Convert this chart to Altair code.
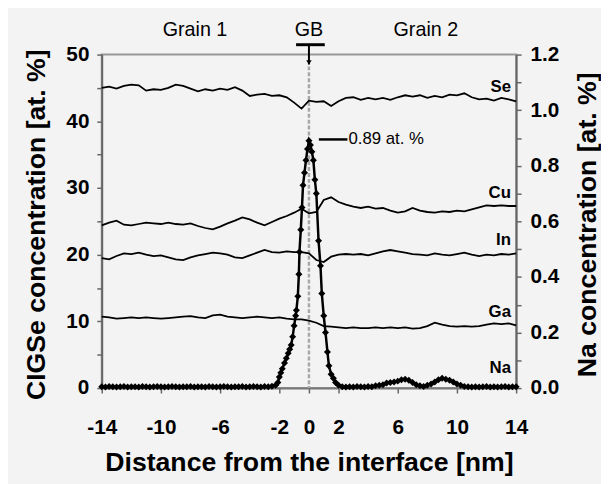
import altair as alt
import pandas as pd

# ---------------- data ----------------
x_nm = [-14.0, -13.5, -13.0, -12.5, -12.0, -11.5, -11.0, -10.5, -10.0, -9.5,
        -9.0, -8.5, -8.0, -7.5, -7.0, -6.5, -6.0, -5.5, -5.0, -4.5,
        -4.0, -3.5, -3.0, -2.5, -2.0, -1.5, -1.0, -0.5, 0.0, 0.5,
        1.0, 1.5, 2.0, 2.5, 3.0, 3.5, 4.0, 4.5, 5.0, 5.5,
        6.0, 6.5, 7.0, 7.5, 8.0, 8.5, 9.0, 9.5, 10.0, 10.5,
        11.0, 11.5, 12.0, 12.5, 13.0, 13.5, 14.0]

se = [45.0, 45.2, 44.9, 45.3, 45.5, 45.4, 44.6, 44.8, 44.7, 45.0,
      45.5, 45.3, 44.9, 44.5, 44.8, 44.6, 44.9, 44.7, 45.1, 44.6,
      43.8, 44.0, 44.1, 43.8, 43.9, 43.6, 42.8, 41.9, 43.1, 42.9,
      43.0, 42.3, 43.0, 43.5, 43.6, 43.2, 43.5, 43.3, 43.5, 43.2,
      43.6, 43.9, 43.7, 43.9, 43.5, 43.8, 43.6, 44.0, 43.9, 44.2,
      43.6, 43.3, 43.4, 43.1, 43.5, 43.3, 43.0]

cu = [24.4, 24.8, 25.1, 24.5, 24.4, 24.6, 24.8, 24.7, 24.6, 24.8,
      24.6, 24.5, 24.7, 24.3, 24.0, 23.8, 24.2, 24.7, 25.1, 25.6,
      25.3, 24.8, 24.4, 24.9, 25.4, 25.8, 26.3, 26.9, 26.2, 26.4,
      28.2, 28.6, 27.9, 27.5, 27.2, 27.0, 27.2, 26.9, 27.0, 26.6,
      26.3, 26.5, 27.0, 26.6, 26.4, 26.3, 26.5, 26.4, 26.6, 26.5,
      26.8, 27.1, 27.4, 27.3, 27.4, 27.3, 27.3]

in_ = [19.5, 19.3, 19.8, 20.2, 20.1, 20.3, 20.0, 19.8, 19.9, 19.6,
       19.3, 19.2, 19.6, 19.9, 20.1, 20.3, 20.2, 20.0, 19.6, 19.5,
       19.9, 20.3, 20.7, 20.4, 20.3, 20.5, 20.4, 20.4, 20.2, 19.2,
       18.9, 19.7, 20.0, 20.1, 20.0, 20.1, 19.9, 20.2, 20.5, 20.7,
       20.5, 20.3, 20.1, 20.0, 19.9, 20.2, 20.0, 19.9, 20.1, 20.3,
       20.0, 19.8, 20.0, 19.9, 20.1, 20.0, 20.2]

ga = [10.7, 10.6, 10.4, 10.5, 10.6, 10.5, 10.6, 10.5, 10.4, 10.5,
      10.6, 10.7, 10.8, 10.6, 10.5, 10.9, 11.0, 10.7, 10.6, 10.5,
      10.6, 10.7, 10.6, 10.5, 10.6, 10.4, 10.3, 10.3, 10.1, 9.8,
      9.3, 9.2, 9.1, 9.0, 9.1, 9.0, 9.0, 9.1, 9.0, 9.1,
      9.0, 9.1, 8.9, 9.0, 9.3, 9.8, 9.5, 9.3, 9.2, 9.3,
      9.2, 9.3, 9.5, 9.7, 9.6, 9.7, 9.4]

na_x = [-14.0, -13.75, -13.5, -13.25, -13.0, -12.75, -12.5, -12.25, -12.0, -11.75,
        -11.5, -11.25, -11.0, -10.75, -10.5, -10.25, -10.0, -9.75, -9.5, -9.25,
        -9.0, -8.75, -8.5, -8.25, -8.0, -7.75, -7.5, -7.25, -7.0, -6.75,
        -6.5, -6.25, -6.0, -5.75, -5.5, -5.25, -5.0, -4.75, -4.5, -4.25,
        -4.0, -3.75, -3.5, -3.25, -3.0, -2.75, -2.5, -2.25,
        -2.1, -2.0, -1.9, -1.8, -1.65, -1.53, -1.4, -1.3, -1.2, -1.1,
        -1.0, -0.9, -0.85, -0.75, -0.68, -0.64, -0.55, -0.47, -0.4, -0.3,
        -0.2, -0.1, 0.0, 0.1, 0.2, 0.3, 0.4, 0.5, 0.65, 0.78,
        0.87, 1.0, 1.12, 1.25, 1.35, 1.5, 1.65, 1.8, 2.0,
        2.25, 2.5, 2.75, 3.0, 3.25, 3.5, 3.75, 4.0, 4.25, 4.5,
        4.75, 5.0, 5.25, 5.5, 5.75, 6.0, 6.25, 6.5, 6.75, 7.0,
        7.25, 7.5, 7.75, 8.0, 8.25, 8.5, 8.75, 9.0, 9.25, 9.5,
        9.75, 10.0, 10.25, 10.5, 10.75, 11.0, 11.25, 11.5, 11.75, 12.0,
        12.25, 12.5, 12.75, 13.0, 13.25, 13.5, 13.75, 14.0]

na = [0.005, 0.004, 0.006, 0.005, 0.004, 0.005, 0.006, 0.004, 0.005, 0.005,
      0.004, 0.006, 0.005, 0.004, 0.005, 0.006, 0.005, 0.004, 0.005, 0.006,
      0.005, 0.004, 0.005, 0.005, 0.006, 0.004, 0.005, 0.005, 0.004, 0.006,
      0.005, 0.004, 0.005, 0.006, 0.005, 0.004, 0.005, 0.005, 0.006, 0.004,
      0.005, 0.006, 0.005, 0.004, 0.006, 0.005, 0.007, 0.01,
      0.02, 0.04, 0.055, 0.07, 0.09, 0.107, 0.125, 0.14, 0.155, 0.185,
      0.224, 0.26, 0.28, 0.33, 0.41, 0.49, 0.57, 0.65, 0.73, 0.775,
      0.82, 0.86, 0.89, 0.875, 0.85, 0.82, 0.75, 0.70, 0.53, 0.44,
      0.34, 0.26, 0.20, 0.13, 0.08, 0.05, 0.035, 0.02, 0.01,
      0.005, 0.004, 0.005, 0.004, 0.006, 0.005, 0.004, 0.006, 0.005, 0.008,
      0.01, 0.012, 0.018, 0.02, 0.022, 0.025, 0.03, 0.032, 0.028, 0.02,
      0.012, 0.008, 0.006, 0.01, 0.015, 0.022, 0.03, 0.035, 0.032, 0.028,
      0.022, 0.015, 0.01, 0.006, 0.005, 0.004, 0.005, 0.004, 0.005, 0.006,
      0.004, 0.005, 0.004, 0.005, 0.006, 0.004, 0.005, 0.005]

series_names = ["Se", "Cu", "In", "Ga"]
label_names = ["Se", "Cu", "In", "Ga", "Na"]
label_y = [45.1, 29.3, 22.2, 11.4, 3.0]

x_ticks = [-14, -10, -6, -2, 0, 2, 6, 10, 14]
left_ticks = [0, 5, 10, 15, 20, 25, 30, 35, 40, 45, 50]
right_ticks = [0.0, 0.1, 0.2, 0.3, 0.4, 0.5, 0.6, 0.7, 0.8, 0.9, 1.0, 1.1, 1.2]

region_names = ["Grain 1", "GB", "Grain 2"]
region_x = [-7.7, 0.0, 7.9]

# ---------------- tables ----------------
rows = []
for name, vals in zip(series_names, [se, cu, in_, ga]):
    for xv, yv in zip(x_nm, vals):
        rows.append({"x": xv, "v": yv, "s": name})
df_main = pd.DataFrame(rows)
df_na = pd.DataFrame({"x": na_x, "na": na})
df_lab = pd.DataFrame({"x": [13.65] * len(label_names), "v": label_y, "t": label_names})
df_reg = pd.DataFrame({"x": region_x, "t": region_names})

FONT = "Liberation Sans"

x_axis = alt.Axis(values=x_ticks, title="Distance from the interface [nm]",
                  labelExpr="'' + datum.value",
                  titleFontSize=27, titleFontWeight="bold", titleFont=FONT,
                  titleY=84, titleBaseline="alphabetic",
                  labelFontSize=21, labelFontWeight="bold", labelFont=FONT,
                  labelColor="black", titleColor="black",
                  labelPadding=24, tickSize=5, tickColor="#666", tickWidth=1.5,
                  domainColor="#777", domainWidth=2, grid=False,
                  labelOverlap=False, labelFlush=False)
x_scale = alt.Scale(domain=[-14, 14], nice=False, zero=False)
X = alt.X("x:Q", scale=x_scale, axis=x_axis)

left_axis = alt.Axis(values=left_ticks,
                     labelExpr="datum.value % 10 === 0 ? datum.label : ''",
                     title="CIGSe concentration [at. %]",
                     titleFontSize=27, titleFontWeight="bold", titleFont=FONT,
                     titleAngle=270, titleX=-58, titleY=172,
                     titleBaseline="alphabetic", titleAlign="center",
                     labelFontSize=21, labelFontWeight="bold", labelFont=FONT,
                     labelColor="black", titleColor="black",
                     labelPadding=8, tickSize=5, tickColor="#666", tickWidth=1.5,
                     domainColor="#666", domainWidth=2, grid=False)
right_axis = alt.Axis(orient="right", values=right_ticks,
                      labelExpr="round(datum.value * 10) % 2 === 0 ? format(datum.value, '.1f') : ''",
                      title="Na concentration [at. %]",
                      titleFontSize=27, titleFontWeight="bold", titleFont=FONT,
                      titleAngle=270, titleX=80, titleY=172,
                      titleBaseline="alphabetic", titleAlign="center",
                      labelFontSize=21, labelFontWeight="bold", labelFont=FONT,
                      labelColor="black", titleColor="black",
                      labelPadding=9, tickSize=5, tickColor="#666", tickWidth=1.5,
                      domainColor="#666", domainWidth=2, grid=False)

Y = alt.Y("v:Q", scale=alt.Scale(domain=[0, 50], nice=False), axis=left_axis)

gb_line = alt.Chart(pd.DataFrame({"x": [0.0]})).mark_rule(
    color="#a8a8a8", strokeWidth=2.5, strokeDash=[4, 2]
).encode(x=X, y=alt.value(12), y2=alt.value(338))

lines = alt.Chart(df_main).mark_line(color="black", strokeWidth=1.8).encode(
    x=X, y=Y, detail="s:N")

labels = alt.Chart(df_lab).mark_text(
    align="right", baseline="middle", fontSize=17, fontWeight="bold", font=FONT, color="black"
).encode(x=X, y=Y, text="t:N")

regions = alt.Chart(df_reg).mark_text(
    align="center", baseline="alphabetic", fontSize=20, font=FONT, color="black"
).encode(x=X, y=alt.value(-19), text="t:N")

gb_bar = alt.Chart(pd.DataFrame({"x": [-0.87], "x2": [1.07]})).mark_rule(
    color="black", strokeWidth=3
).encode(x=X, x2="x2:Q", y=alt.value(-10))

arrow = alt.Chart(pd.DataFrame({"x": [0.0]})).mark_rule(
    color="black", strokeWidth=2
).encode(x=X, y=alt.value(-10), y2=alt.value(10))

arrow_head = alt.Chart(pd.DataFrame({"x": [0.0]})).mark_point(
    shape="triangle-down", filled=True, color="black", size=30, opacity=1
).encode(x=X, y=alt.value(8))

peak_rule = alt.Chart(pd.DataFrame({"x": [0.67], "x2": [2.6]})).mark_rule(
    color="black", strokeWidth=2.5
).encode(x=X, x2="x2:Q", y=alt.value(86))

peak_text = alt.Chart(pd.DataFrame({"x": [2.67], "t": ["0.89 at. %"]})).mark_text(
    align="left", baseline="middle", fontSize=17, font=FONT, color="black"
).encode(x=X, y=alt.value(86), text="t:N")

left_layer = alt.layer(gb_line, lines, labels, regions, gb_bar, arrow, arrow_head,
                       peak_rule, peak_text)

YN = alt.Y("na:Q", scale=alt.Scale(domain=[0, 1.2], nice=False), axis=right_axis)
na_line = alt.Chart(df_na).mark_line(color="black", strokeWidth=2.5).encode(x=X, y=YN)
na_pts = alt.Chart(df_na).mark_point(
    shape="diamond", filled=True, color="black", size=50, opacity=1
).encode(x=X, y=YN)
na_layer = alt.layer(na_line, na_pts)

chart = alt.layer(left_layer, na_layer).resolve_scale(y="independent").properties(
    width=420, height=338,
    autosize=alt.AutoSizeParams(type="none"),
    padding={"left": 95, "top": 44, "right": 86, "bottom": 94},
).configure(font=FONT, background="#f3f3f3").configure_view(
    stroke="#999", strokeWidth=2
)

chart.save("out.html", embed_options={"renderer": "svg", "actions": False})
